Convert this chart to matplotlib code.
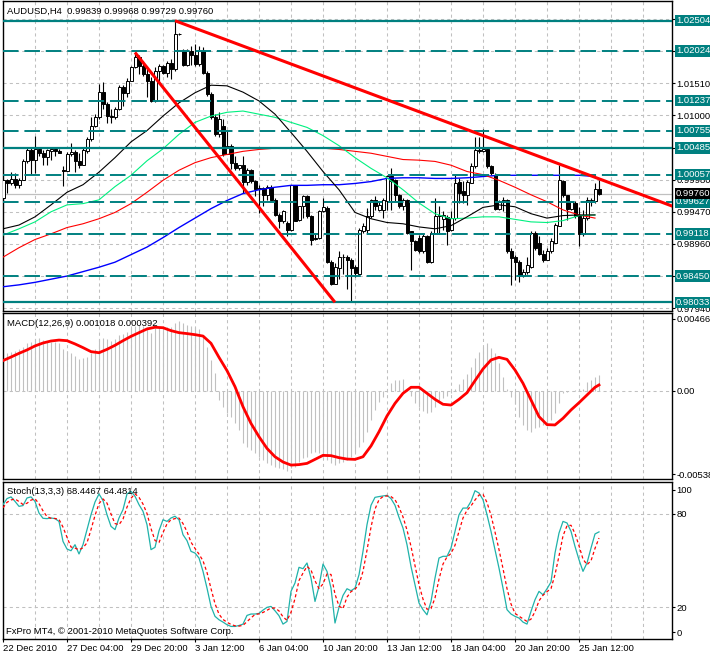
import matplotlib
matplotlib.use("Agg")
import matplotlib.pyplot as plt
from matplotlib.patches import Rectangle
import numpy as np

plt.rcParams['font.family'] = ['Liberation Sans', 'DejaVu Sans']
FS = 6.8

# ------------------------------------------------------------------ data
opens = [0.9969, 0.9998, 0.9993, 0.9999, 0.9990, 0.9998, 1.0028, 1.0045, 1.0030, 1.0046,
         1.0041, 1.0034, 1.0044, 1.0046, 1.0043, 1.0014, 1.0012, 1.0038, 1.0042, 1.0028,
         1.0022, 1.0044, 1.0062, 1.0083, 1.0098, 1.0137, 1.0118, 1.0099, 1.0097, 1.0111,
         1.0145, 1.0136, 1.0155, 1.0177, 1.0192, 1.0179, 1.0166, 1.0155, 1.0123, 1.0170,
         1.0179, 1.0167, 1.0184, 1.0173, 1.0230, 1.0203, 1.0180, 1.0203, 1.0196, 1.0182,
         1.0203, 1.0167, 1.0134, 1.0098, 1.0070, 1.0083, 1.0039, 1.0051, 1.0024, 1.0017,
         1.0021, 0.9994, 1.0013, 0.9996, 0.9983, 0.9984, 0.9974, 0.9987, 0.9966, 0.9942,
         0.9932, 0.9929, 0.9918, 0.9989, 0.9934, 0.9957, 0.9972, 0.9940, 0.9905, 0.9905,
         0.9948, 0.9953, 0.9868, 0.9833, 0.9857, 0.9876, 0.9876, 0.9871, 0.9860, 0.9849,
         0.9917, 0.9918, 0.9941, 0.9966, 0.9950, 0.9950, 0.9964, 1.0004, 0.9998, 0.9974,
         0.9956, 0.9966, 0.9916, 0.9900, 0.9905, 0.9885, 0.9908, 0.9868, 0.9913, 0.9940,
         0.9935, 0.9939, 0.9918, 0.9937, 0.9994, 0.9980, 0.9973, 0.9993, 1.0019, 1.0045,
         1.0044, 1.0047, 1.0019, 1.0006, 0.9951, 0.9962, 0.9966, 0.9885, 0.9876, 0.9868,
         0.9845, 0.9852, 0.9859, 0.9913, 0.9897, 0.9880, 0.9871, 0.9884, 0.9898, 0.9925,
         0.9996, 0.9973, 0.9951, 0.9961, 0.9940, 0.9911, 0.9937, 0.9962, 0.9964, 0.99839]

highs = [0.9999, 0.9999, 1.0010, 1.0008, 1.0001, 1.0031, 1.0049, 1.0049, 1.0067, 1.0050,
         1.0045, 1.0047, 1.0049, 1.0049, 1.0047, 1.0020, 1.0042, 1.0057, 1.0045, 1.0041,
         1.0050, 1.0065, 1.0097, 1.0102, 1.0150, 1.0153, 1.0122, 1.0110, 1.0113, 1.0148,
         1.0148, 1.0159, 1.0179, 1.0200, 1.0196, 1.0187, 1.0175, 1.0161, 1.0177, 1.0182,
         1.0180, 1.0187, 1.0190, 1.02504, 1.0231, 1.0205, 1.0206, 1.0211, 1.0214, 1.0211,
         1.0208, 1.0171, 1.0137, 1.0102, 1.0106, 1.0095, 1.0077, 1.0054, 1.0036, 1.0022,
         1.0036, 1.0017, 1.0015, 0.9998, 0.9989, 0.9987, 0.9989, 0.9989, 0.9969, 0.9945,
         0.9950, 0.9932, 0.9990, 0.9990, 0.9957, 0.9973, 0.9974, 0.9942, 0.9911, 0.9950,
         0.9969, 0.9956, 0.9871, 0.9865, 0.9884, 0.9880, 0.9878, 0.9873, 0.9863, 0.9921,
         0.9929, 0.9953, 0.9967, 0.9972, 0.9964, 0.9969, 1.0006, 1.0017, 0.9999, 0.9976,
         0.9969, 0.9967, 0.9917, 0.9903, 0.9910, 0.9911, 0.9910, 0.9916, 0.9969, 0.9957,
         0.9948, 0.9942, 0.9948, 1.0006, 1.0001, 0.9996, 0.9998, 1.0025, 1.0065, 1.0065,
         1.0078, 1.0049, 1.0022, 1.0008, 0.9966, 0.9971, 0.9967, 0.9889, 0.9878, 0.9871,
         0.9856, 0.9876, 0.9916, 0.9916, 0.9908, 0.9887, 0.9889, 0.9905, 0.9929, 1.0022,
         0.9998, 0.9974, 0.9964, 0.9964, 0.9955, 0.9950, 0.9971, 0.9969, 0.9992, 0.99968]

lows = [0.9962, 0.9977, 0.9990, 0.9985, 0.9985, 0.9997, 1.0025, 1.0006, 1.0008, 1.0036,
        1.0021, 1.0021, 1.0030, 1.0036, 1.0040, 0.9988, 1.0011, 1.0036, 1.0010, 1.0017,
        1.0021, 1.0041, 1.0059, 1.0081, 1.0095, 1.0110, 1.0088, 1.0088, 1.0095, 1.0109,
        1.0115, 1.0130, 1.0154, 1.0175, 1.0166, 1.0163, 1.0130, 1.0121, 1.0122, 1.0153,
        1.0166, 1.0161, 1.0158, 1.0171, 1.0227, 1.0179, 1.0179, 1.0180, 1.0179, 1.0179,
        1.0166, 1.0131, 1.0094, 1.0067, 1.0066, 1.0036, 1.0038, 1.0015, 1.0014, 1.0014,
        0.9977, 0.9990, 0.9993, 0.9972, 0.9945, 0.9957, 0.9966, 0.9964, 0.9940, 0.9921,
        0.9929, 0.9908, 0.9917, 0.9932, 0.9933, 0.9937, 0.9937, 0.9895, 0.9903, 0.9904,
        0.9946, 0.9865, 0.9831, 0.9832, 0.9840, 0.9849, 0.9825, 0.9804, 0.9844, 0.9848,
        0.9913, 0.9913, 0.9937, 0.9950, 0.9948, 0.9937, 0.9950, 0.9950, 0.9964, 0.9953,
        0.9950, 0.9912, 0.9855, 0.9884, 0.9882, 0.9882, 0.9865, 0.9866, 0.9911, 0.9911,
        0.9918, 0.9895, 0.9916, 0.9934, 0.9961, 0.9961, 0.9958, 0.9992, 1.0017, 1.0041,
        1.0042, 1.0017, 1.0005, 0.9950, 0.9950, 0.9948, 0.9882, 0.9831, 0.9839, 0.9836,
        0.9844, 0.9849, 0.9857, 0.9887, 0.9879, 0.9868, 0.9870, 0.9882, 0.9897, 0.9924,
        0.9971, 0.9934, 0.9950, 0.9937, 0.9893, 0.9909, 0.9934, 0.9956, 0.9961, 0.99729]

closes = [0.9997, 0.9993, 0.9999, 0.9990, 0.9998, 1.0028, 1.0045, 1.0030, 1.0046, 1.0041,
          1.0034, 1.0045, 1.0046, 1.0043, 1.0041, 1.0012, 1.0039, 1.0042, 1.0028, 1.0022,
          1.0045, 1.0062, 1.0083, 1.0098, 1.0137, 1.0118, 1.0099, 1.0097, 1.0111, 1.0145,
          1.0136, 1.0155, 1.0177, 1.0192, 1.0179, 1.0166, 1.0155, 1.0123, 1.0170, 1.0179,
          1.0167, 1.0184, 1.0173, 1.0230, 1.0229, 1.0180, 1.0203, 1.0196, 1.0182, 1.0203,
          1.0167, 1.0134, 1.0098, 1.0070, 1.0094, 1.0038, 1.0051, 1.0024, 1.0017, 1.0021,
          0.9994, 1.0013, 0.9996, 0.9983, 0.9984, 0.9974, 0.9987, 0.9966, 0.9942, 0.9932,
          0.9948, 0.9918, 0.9989, 0.9933, 0.9957, 0.9972, 0.9940, 0.9903, 0.9904, 0.9948,
          0.9955, 0.9868, 0.9833, 0.9860, 0.9876, 0.9875, 0.9871, 0.9857, 0.9850, 0.9918,
          0.9924, 0.9940, 0.9966, 0.9957, 0.9958, 0.9966, 1.0004, 0.9996, 0.9974, 0.9956,
          0.9966, 0.9913, 0.9900, 0.9887, 0.9885, 0.9908, 0.9868, 0.9913, 0.9940, 0.9942,
          0.9942, 0.9917, 0.9937, 0.9993, 0.9977, 0.9973, 0.9994, 1.0019, 1.0045, 1.0044,
          1.0047, 1.0019, 1.0008, 0.9951, 0.9962, 0.9965, 0.9884, 0.9873, 0.9868, 0.9847,
          0.9852, 0.9863, 0.9913, 0.9889, 0.9880, 0.9870, 0.9884, 0.9900, 0.9926, 0.9997,
          0.9973, 0.9951, 0.9962, 0.9940, 0.9911, 0.9937, 0.9966, 0.9966, 0.9983, 0.99760]

# moving averages, read every 4 bars (bar 0, 4, ..., 148)
ma_bars = list(range(0, 149, 4))
ma_black = [0.9920, 0.9926, 0.9939, 0.9958, 0.9978, 0.9990, 1.0010, 1.0033, 1.0058, 1.0076,
            1.0099, 1.0120, 1.0136, 1.0148, 1.0147, 1.0137, 1.0123, 1.0102, 1.0073, 1.0043,
            1.0011, 0.9982, 0.9946, 0.9936, 0.9930, 0.9928, 0.9923, 0.9920, 0.9925, 0.9939,
            0.9954, 0.9958, 0.9955, 0.9944, 0.9937, 0.9941, 0.9942, 0.9942]
ma_green = [0.9910, 0.9920, 0.9931, 0.9947, 0.9958, 0.9960, 0.9966, 0.9987, 1.0005, 1.0028,
            1.0047, 1.0070, 1.0089, 1.0099, 1.0105, 1.0107, 1.0102, 1.0097, 1.0089, 1.0081,
            1.0068, 1.0052, 1.0033, 1.0016, 1.0001, 0.9982, 0.9961, 0.9944, 0.9936, 0.9937,
            0.9939, 0.9939, 0.9935, 0.9931, 0.9930, 0.9933, 0.9941, 0.9942]
ma_red = [0.9875, 0.9890, 0.9903, 0.9912, 0.9922, 0.9928, 0.9936, 0.9946, 0.9960, 0.9978,
          0.9997, 1.0013, 1.0025, 1.0033, 1.0038, 1.0043, 1.0046, 1.0048, 1.0049, 1.0049,
          1.0048, 1.0046, 1.0043, 1.0040, 1.0035, 1.0030, 1.0029, 1.0027, 1.0021, 1.0011,
          1.0006, 0.9997, 0.9986, 0.9974, 0.9963, 0.9950, 0.9942, 0.9937]
ma_blue = [0.9828, 0.9831, 0.9835, 0.9840, 0.9845, 0.9852, 0.9859, 0.9867, 0.9879, 0.9891,
           0.9906, 0.9922, 0.9937, 0.9952, 0.9965, 0.9976, 0.9982, 0.9986, 0.9989, 0.9989,
           0.9990, 0.9990, 0.9992, 0.9995, 1.0000, 1.0001, 1.0001, 1.0000, 1.0000, 1.0001,
           1.0003, 1.0005, 1.0005, 1.0005, 1.0005, 1.0005, 1.0005, 1.0003]

solid_levels = [1.02504, 1.00485, 0.98033]
dash_levels = [1.02024, 1.01237, 1.00755, 1.00057, 0.99627, 0.99118, 0.98450]
grid_levels = [0.97940, 0.98450, 0.98960, 0.99470, 0.99980, 1.00490, 1.01000, 1.01510, 1.02020, 1.02530]
current_price = 0.99760

# trend lines: (bar, price) anchor points
trend1 = [(43, 1.02504), (149, 0.99994)]   # ray to the right
trend2 = [(33, 1.02000), (83, 0.98033)]

macd_main = [0.00244, 0.00248, 0.00255, 0.00261, 0.00270, 0.00287, 0.00309, 0.00320, 0.00335, 0.00341,
             0.00330, 0.00326, 0.00320, 0.00320, 0.00309, 0.00270, 0.00261, 0.00248, 0.00227, 0.00205,
             0.00212, 0.00222, 0.00244, 0.00270, 0.00335, 0.00341, 0.00335, 0.00326, 0.00335, 0.00363,
             0.00369, 0.00384, 0.00406, 0.00421, 0.00428, 0.00421, 0.00413, 0.00378, 0.00406, 0.00417,
             0.00413, 0.00417, 0.00413, 0.00443, 0.00456, 0.00438, 0.00428, 0.00421, 0.00413, 0.00400,
             0.00352, 0.00287, 0.00201, 0.00114, -0.00058, -0.00102, -0.00145, -0.00166, -0.00210, -0.00253,
             -0.00339, -0.00361, -0.00382, -0.00404, -0.00426, -0.00447, -0.00469, -0.00480, -0.00490, -0.00501,
             -0.00508, -0.00516, -0.00501, -0.00490, -0.00458, -0.00436, -0.00426, -0.00404, -0.00393, -0.00404,
             -0.00426, -0.00447, -0.00469, -0.00480, -0.00469, -0.00458, -0.00447, -0.00426, -0.00393, -0.00361,
             -0.00328, -0.00264, -0.00188, -0.00123, -0.00069, -0.00041, -0.00004, 0.00054, 0.00071, 0.00071,
             0.00076, 0.00006, -0.00032, -0.00076, -0.00106, -0.00127, -0.00145, -0.00134, -0.00102, -0.00069,
             -0.00048, -0.00032, -0.00015, 0.00011, 0.00045, 0.00076, 0.00110, 0.00153, 0.00212, 0.00255,
             0.00287, 0.00309, 0.00276, 0.00248, 0.00179, 0.00093, 0.00011, -0.00041, -0.00084, -0.00166,
             -0.00220, -0.00253, -0.00264, -0.00242, -0.00231, -0.00220, -0.00210, -0.00188, -0.00145, -0.00080,
             -0.00015, -0.00006, 0.00002, 0.00006, 0.00011, 0.00015, 0.00060, 0.00071, 0.00089, 0.001018]

# MACD signal, read every 2 bars plus the last bar
macd_sig_bars = list(range(0, 149, 2)) + [149]
macd_signal = [0.00197, 0.00220, 0.00244, 0.00266, 0.00292, 0.00311, 0.00324, 0.00330, 0.00326, 0.00305,
               0.00281, 0.00255, 0.00248, 0.00270, 0.00296, 0.00326, 0.00354, 0.00378, 0.00402, 0.00413,
               0.00410, 0.00391, 0.00378, 0.00372, 0.00365, 0.00356, 0.00309, 0.00218, 0.00132, 0.00028,
               -0.00102, -0.00210, -0.00296, -0.00372, -0.00426, -0.00460, -0.00480, -0.00477, -0.00469, -0.00443,
               -0.00417, -0.00419, -0.00432, -0.00441, -0.00443, -0.00426, -0.00356, -0.00264, -0.00162, -0.00080,
               -0.00015, 0.00024, 0.00024, -0.00015, -0.00054, -0.00086, -0.00091, -0.00054, -0.00011, 0.00067,
               0.00143, 0.00201, 0.00218, 0.00205, 0.00136, 0.00050, -0.00058, -0.00166, -0.00218, -0.00220,
               -0.00177, -0.00123, -0.00076, -0.00026, 0.00024, 0.000392]

stoch_main = [86.0, 89.9, 91.0, 88.1, 84.9, 85.4, 90.3, 91.0, 88.1, 80.6,
              77.2, 77.0, 77.4, 77.0, 75.2, 62.3, 57.4, 56.3, 60.2, 54.2,
              60.2, 69.9, 79.5, 87.7, 92.9, 88.6, 79.5, 72.0, 69.9, 77.4,
              82.8, 92.9, 94.6, 91.4, 86.0, 81.7, 73.1, 57.0, 58.5, 69.2,
              76.3, 75.2, 77.4, 78.5, 76.3, 66.6, 62.8, 55.9, 54.8, 51.6,
              43.0, 32.2, 20.4, 14.0, 11.8, 10.3, 8.6, 7.5, 7.5, 8.1,
              9.0, 14.6, 15.5, 15.5, 15.9, 18.0, 19.8, 20.4, 17.6, 14.4,
              9.0, 10.7, 30.1, 35.5, 45.6, 44.7, 48.4, 38.7, 23.6, 33.3,
              47.7, 43.0, 32.2, 9.7, 19.8, 27.5, 31.8, 30.5, 32.2, 40.8,
              55.9, 73.1, 85.6, 90.7, 91.2, 91.6, 92.0, 89.9, 85.6, 77.8,
              70.9, 60.2, 46.2, 34.4, 22.6, 18.3, 15.0, 23.6, 38.7, 51.6,
              52.7, 52.7, 58.0, 68.8, 79.5, 83.8, 83.8, 88.1, 95.0, 93.5,
              89.2, 79.5, 68.8, 57.0, 45.1, 32.2, 18.3, 15.5, 14.0, 12.9,
              10.3, 9.0, 17.2, 24.7, 30.1, 27.9, 31.8, 36.1, 54.8, 67.7,
              75.2, 74.2, 68.8, 59.1, 50.5, 43.0, 48.4, 58.0, 67.1, 68.4467]

stoch_signal = [84.0, 87.5, 89.0, 89.7, 88.0, 86.1, 86.9, 88.9, 89.8, 86.6,
                82.0, 78.3, 77.2, 77.1, 76.5, 71.5, 65.0, 58.7, 58.0, 56.9,
                58.2, 61.4, 69.9, 79.0, 86.7, 89.7, 87.0, 80.0, 73.8, 73.1,
                76.7, 84.4, 90.1, 93.0, 90.7, 86.4, 80.3, 70.6, 62.9, 61.6,
                68.0, 73.6, 76.3, 77.0, 77.4, 73.8, 68.6, 61.8, 57.8, 54.1,
                49.8, 42.3, 31.9, 22.2, 15.4, 12.0, 10.2, 8.8, 7.9, 7.7,
                8.2, 10.6, 13.0, 15.2, 15.6, 16.5, 17.9, 19.4, 19.3, 17.5,
                13.7, 11.4, 16.6, 25.4, 37.1, 41.9, 46.2, 43.9, 36.9, 31.9,
                34.9, 41.3, 41.0, 28.3, 20.6, 19.0, 26.4, 29.9, 31.5, 34.5,
                43.0, 56.6, 71.5, 83.1, 89.2, 91.2, 91.6, 91.2, 89.2, 84.4,
                78.1, 69.6, 59.1, 46.9, 34.4, 25.1, 18.6, 19.0, 25.8, 38.0,
                47.7, 52.3, 54.5, 59.8, 68.8, 77.4, 82.4, 85.2, 89.0, 92.2,
                92.6, 87.4, 79.2, 68.4, 57.0, 44.8, 31.9, 22.0, 15.9, 14.1,
                12.4, 10.7, 12.2, 17.0, 24.0, 27.6, 29.9, 31.9, 40.9, 52.9,
                65.9, 72.4, 72.7, 67.4, 59.5, 50.9, 47.3, 49.8, 57.8, 64.4814]

time_label_bars = [0, 16, 32, 48, 64, 80, 96, 112, 128, 144]
time_labels = ['22 Dec 2010', '27 Dec 04:00', '29 Dec 20:00', '3 Jan 12:00', '6 Jan 04:00',
               '10 Jan 20:00', '13 Jan 12:00', '18 Jan 04:00', '20 Jan 20:00', '25 Jan 12:00']

# ------------------------------------------------------------------ style
TEAL = '#008080'
GRID = '#c0c0c0'
W, H = 710, 656
XMIN, XMAX = -0.125, 167.25

fig = plt.figure(figsize=(W / 100, H / 100), dpi=100)
fig.patch.set_facecolor('white')


def px_axes(x0, y0, x1, y1):
    return fig.add_axes([x0 / W, 1 - y1 / H, (x1 - x0) / W, (y1 - y0) / H])


ax1 = px_axes(2.5, 1, 672, 311)
ax2 = px_axes(2.5, 313, 672, 479)
ax3 = px_axes(2.5, 482, 672, 639)

for ax in (ax1, ax2, ax3):
    ax.set_xlim(XMIN, XMAX)
    ax.set_facecolor('white')
    for s in ax.spines.values():
        s.set_color('black')
        s.set_linewidth(1.0)
    for gx in range(8, 168, 8):
        ax.axvline(gx, color=GRID, lw=0.75, ls=(0, (3, 3)), zorder=0.5)
    ax.yaxis.tick_right()
    ax.tick_params(axis='y', direction='out', length=2, width=0.8, pad=1.2,
                   labelsize=FS, colors='black')
    ax.set_xticks([])

# ------------------------------------------------------------------ main
o = np.array(opens); h = np.array(highs); l = np.array(lows); c = np.array(closes)
idx = np.arange(len(c))
ax1.set_ylim(0.97895, 1.02817)
for gy in grid_levels:
    ax1.axhline(gy, color=GRID, lw=0.75, ls=(0, (3, 3)), zorder=0.5)
ax1.axhline(current_price, color=GRID, lw=0.9, zorder=1.5)

ax1.vlines(idx, l, h, color='black', lw=0.8, zorder=2)
for i in idx:
    bot = min(o[i], c[i])
    ht = abs(c[i] - o[i])
    fc = 'white' if c[i] >= o[i] else 'black'
    ax1.add_patch(Rectangle((i - 0.375, bot), 0.75, ht, facecolor=fc,
                            edgecolor='black', lw=0.7, zorder=3))

ax1.plot(ma_bars, ma_blue, color='#0000ff', lw=1.0, zorder=4)
ax1.plot(ma_bars, ma_red, color='#ff0000', lw=0.8, zorder=4)
ax1.plot(ma_bars, ma_green, color='#00f080', lw=0.8, zorder=4)
ax1.plot(ma_bars, ma_black, color='black', lw=0.8, zorder=4)

for lv in solid_levels:
    ax1.axhline(lv, color=TEAL, lw=1.6, zorder=5)
for lv in dash_levels:
    ax1.axhline(lv, color=TEAL, lw=1.4, ls=(0, (8, 3)), zorder=5)

(x1a, y1a), (x1b, y1b) = trend1
y_end = y1a + (y1b - y1a) / (x1b - x1a) * (XMAX + 2 - x1a)
ax1.plot([x1a, XMAX + 2], [y1a, y_end], color='red', lw=2.2, zorder=6,
         solid_capstyle='butt')
ax1.plot([p[0] for p in trend2], [p[1] for p in trend2], color='red', lw=2.2,
         zorder=6, solid_capstyle='butt')

ax1.set_yticks(grid_levels)
ax1.set_yticklabels(['%.5f' % v for v in grid_levels])


def price_box(ax, val, text, fc):
    ax.annotate(text, xy=(1, val), xycoords=('axes fraction', 'data'),
                xytext=(4, 0), textcoords='offset pixels', ha='left', va='center',
                fontsize=FS, color='white', annotation_clip=False, zorder=20,
                bbox=dict(boxstyle='square,pad=0.12', fc=fc, ec='none'))


for lv in solid_levels + dash_levels:
    price_box(ax1, lv, '%.5f' % lv, TEAL)
price_box(ax1, current_price, '%.5f' % current_price, 'black')

# ------------------------------------------------------------------ MACD
ax2.set_ylim(-0.005702, 0.005054)
ax2.axhline(0, color=GRID, lw=0.75, ls=(0, (3, 3)), zorder=0.5)
ax2.vlines(idx, 0, macd_main, color=GRID, lw=0.8, zorder=2)
ax2.plot(macd_sig_bars, macd_signal, color='red', lw=2.0, zorder=3)
ax2.set_yticks([0.004666, 0.0, -0.00538])
ax2.set_yticklabels(['0.004666', '0.00', '-0.00538'])

# ------------------------------------------------------------------ Stochastic
ax3.set_ylim(-0.6, 100.6)
for lv in (80, 20):
    ax3.axhline(lv, color=GRID, lw=0.75, ls=(0, (3, 3)), zorder=0.5)
ax3.plot(idx, stoch_main, color='#20b2aa', lw=0.9, zorder=3)
ax3.plot(idx, stoch_signal, color='red', lw=0.9, ls=(0, (2.5, 2)), zorder=4)
ax3.set_yticks([95.5, 80, 20, 3.9])
ax3.set_yticklabels(['100', '80', '20', '0'])
ax3.set_xticks(time_label_bars)
ax3.set_xticklabels(time_labels, ha='left', fontsize=FS)
ax3.tick_params(axis='x', direction='out', length=2.5, width=0.8, pad=0.8)

# ------------------------------------------------------------------ texts
def ftext(x, y, s):
    fig.text(x / W, 1 - y / H, s, ha='left', va='center', fontsize=FS, color='black')


ftext(7.3, 11, 'AUDUSD,H4  0.99839 0.99968 0.99729 0.99760')
ftext(7, 323, 'MACD(12,26,9) 0.001018 0.000392')
ftext(7, 492, 'Stoch(13,3,3) 68.4467 64.4814')
ftext(6, 631, 'FxPro MT4, \u00a9 2001-2010 MetaQuotes Software Corp.')

fig.savefig('out.png', dpi=100, facecolor='white')
